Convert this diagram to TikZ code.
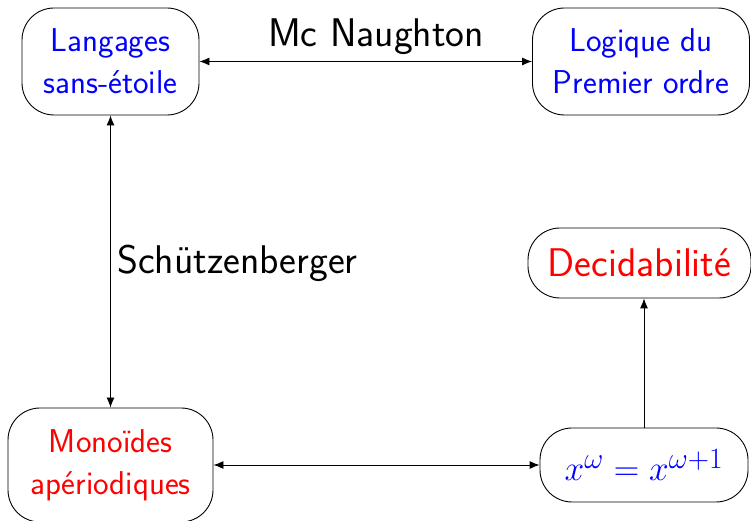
\documentclass[tikz,border=0pt]{standalone}
\usepackage{graphicx}
\usetikzlibrary{arrows.meta}
\begin{document}
\begin{tikzpicture}[x=1pt,y=1pt,
  box/.style={draw, rounded corners=32pt, line width=0.9pt, align=center, inner sep=0pt,
    font=\sffamily\fontsize{33}{42}\selectfont},
  lbl/.style={inner sep=0pt, font=\sffamily\fontsize{40}{48}\selectfont},
  tip/.tip={Latex[length=10pt,width=8pt]},
  arr/.style={line width=0.9pt, -tip},
  darr/.style={line width=0.9pt, tip-tip}]
\useasboundingbox (0,0) rectangle (751,521);
\node[box, text=blue, minimum width=177pt, minimum height=107pt] (A) at (110.5,459.5) {Langages\\sans-étoile};
\node[box, text=blue, minimum width=217pt, minimum height=107pt] (B) at (641,459.5) {Logique du\\Premier ordre};
\node[box, text=red, minimum width=205pt, minimum height=114pt] (C) at (110.5,56) {Monoïdes\\apériodiques};
\node[box, text=blue, minimum width=208pt, minimum height=74pt, font=\fontsize{24.88}{30}\selectfont] (D) at (644,56) {\scalebox{1.42}{$x^{\omega}=x^{\omega+1}$}};
\node[box, text=red, minimum width=223pt, minimum height=70pt, font=\sffamily\fontsize{40}{48}\selectfont] (E) at (639.5,258) {Decidabilité};
\draw[darr] (A.east) -- (B.west);
\draw[darr] (A.south) -- (C.north);
\draw[darr] (C.east) -- (D.west);
\draw[arr] (D.north) -- (D.north |- E.south);
\node[lbl] (mc) at (376,484) {Mc Naughton};
\node[lbl, anchor=west] (sz) at (117,258) {Schützenberger};
\end{tikzpicture}
\end{document}
